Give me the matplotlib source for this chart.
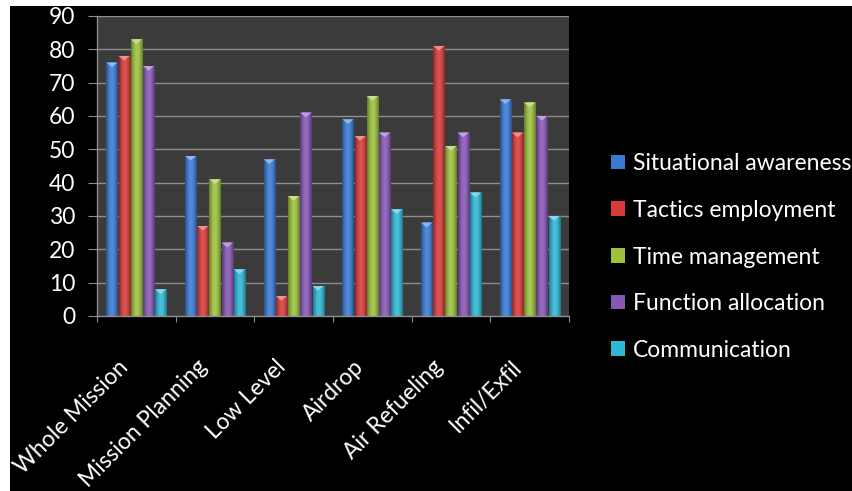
import numpy as np
import matplotlib
matplotlib.use("Agg")
import matplotlib.pyplot as plt
from matplotlib.patches import Rectangle, Polygon, Patch
from matplotlib.colors import to_rgb
import matplotlib.transforms as mtransforms

categories = ["Whole Mission", "Mission Planning", "Low Level", "Airdrop",
              "Air Refueling", "Infil/Exfil"]
series_names = ["Situational awareness", "Tactics employment", "Time management",
                "Function allocation", "Communication"]
situational_awareness = [76, 48, 47, 59, 28, 65]
tactics_employment = [78, 27, 6, 54, 81, 55]
time_management = [83, 41, 36, 66, 51, 64]
function_allocation = [75, 22, 61, 55, 55, 60]
communication = [8, 14, 9, 32, 37, 30]
y_ticks = [0, 10, 20, 30, 40, 50, 60, 70, 80, 90]

series_values = [situational_awareness, tactics_employment, time_management,
                 function_allocation, communication]
colors = ["#3a7bd5", "#d83a3a", "#9cc23c", "#8757b5", "#2fb7d6"]

plt.rcParams['font.family'] = ['Lato', 'DejaVu Sans']

W, H = 853, 491
fig = plt.figure(figsize=(W / 100, H / 100), dpi=100)
fig.patch.set_facecolor("white")
fig.patches.append(Rectangle((10 / W, 0), 1 - 10 / W, 1 - 6 / H,
                             transform=fig.transFigure, facecolor="black",
                             edgecolor="none", zorder=-10))

ax = fig.add_axes([97 / W, 1 - 316 / H, (569 - 97) / W, 300 / H])
ax.set_facecolor("#3b3b3b")

step = 0.155
width = 0.14
grid_col = "#8e8e8e"

for yv in y_ticks[1:]:
    ax.axhline(yv, color=grid_col, lw=1.0, zorder=1)


def shade(rgb, t):
    # cylinder-like horizontal shading
    s = np.sin(np.pi * t)
    c = np.array(rgb)
    dark = c * 0.65
    light = c + (1 - c) * 0.12
    return dark[None, :] * (1 - s[:, None]) + light[None, :] * s[:, None]


tpx = np.linspace(0, 1, 32)
for j, (vals, col) in enumerate(zip(series_values, colors)):
    rgb = to_rgb(col)
    grad = shade(rgb, tpx)[None, :, :]
    for i, v in enumerate(vals):
        xc = i + (j - 2) * step
        x0, x1 = xc - width / 2, xc + width / 2
        ax.imshow(grad, extent=[x0, x1, 0, v], aspect="auto",
                  interpolation="bilinear", zorder=3)
        tip = min(1.4, v * 0.5)
        lc = np.array(rgb) + (1 - np.array(rgb)) * 0.45
        ax.add_patch(Polygon([[x0, v], [x1, v], [xc, v - tip]], closed=True,
                             facecolor=lc, edgecolor="none", zorder=4))

ax.set_xlim(-0.5, len(categories) - 0.5)
ax.set_ylim(0, 90)

for s in ["top", "right"]:
    ax.spines[s].set_visible(False)
for s in ["left", "bottom"]:
    ax.spines[s].set_color(grid_col)
    ax.spines[s].set_linewidth(1.0)
    ax.spines[s].set_zorder(5)

ax.set_yticks(y_ticks)
ax.set_yticklabels([str(v) for v in y_ticks], color="white", fontsize=16.5)
ax.tick_params(axis="y", length=6.5, color=grid_col, pad=9)

ax.set_xticks(np.arange(len(categories) + 1) - 0.5)
ax.set_xticklabels([])
ax.tick_params(axis="x", which="major", length=4.5, color=grid_col)
ax.set_xticks(np.arange(len(categories)), minor=True)
ax.set_xticklabels(categories, minor=True, rotation=45, ha="right", va="top",
                   rotation_mode="anchor", color="white", fontsize=16.5)
ax.tick_params(axis="x", which="minor", length=0, pad=29)
off = mtransforms.ScaledTranslation(-19 / 100, 0, fig.dpi_scale_trans)
for lab in ax.get_xticklabels(minor=True):
    lab.set_transform(lab.get_transform() + off)

handles = [Patch(facecolor=c, edgecolor="none") for c in colors]
leg = fig.legend(handles, series_names, loc="center left",
                 bbox_to_anchor=(602 / W, 1 - 257 / H), frameon=False,
                 fontsize=16.5, labelcolor="white", handlelength=0.6,
                 handleheight=0.6, handletextpad=0.35, labelspacing=1.12,
                 borderaxespad=0)

fig.savefig("out.png", dpi=100, facecolor=fig.get_facecolor())
